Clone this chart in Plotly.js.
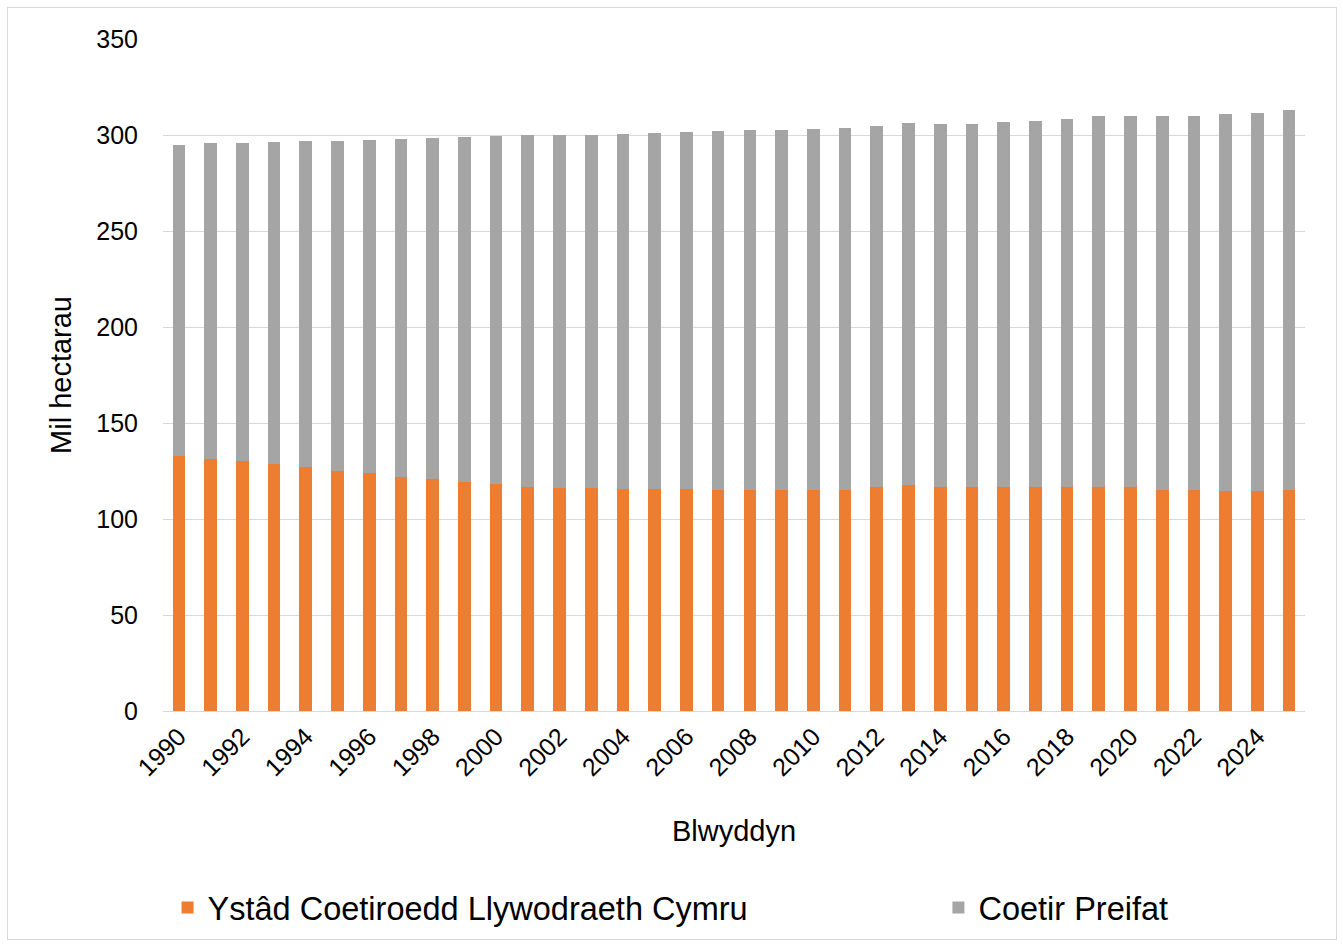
<!DOCTYPE html>
<html>
<head>
<meta charset="utf-8">
<script src="https://cdn.plot.ly/plotly-3.0.1.min.js"></script>
<style>
  html, body { margin: 0; padding: 0; background: #ffffff; }
  #frame { position: absolute; left: 7px; top: 7px; width: 1328px; height: 931px; border: 1px solid #d9d9d9; }
  #chart { width: 1328px; height: 931px; }
</style>
</head>
<body>
<div id="frame"><div id="chart"></div></div>
<script>
// Years (x categories)
const years = [1990,1991,1992,1993,1994,1995,1996,1997,1998,1999,
               2000,2001,2002,2003,2004,2005,2006,2007,2008,2009,
               2010,2011,2012,2013,2014,2015,2016,2017,2018,2019,
               2020,2021,2022,2023,2024,2025];

// Ystâd Coetiroedd Llywodraeth Cymru (mil hectarau)
const ystadValues = [132.8,131.4,130.0,128.8,127.3,125.2,124.0,121.9,121.0,119.1,
                     118.1,116.8,116.0,116.0,115.8,115.8,115.8,115.1,115.0,115.1,
                     115.1,115.1,116.8,117.9,116.8,116.8,116.8,116.8,116.8,116.8,
                     116.8,114.9,114.9,114.8,114.8,115.1];

// Coetir Preifat (mil hectarau)
const preifatValues = [162.0,164.3,165.8,167.4,169.4,171.8,173.6,176.0,177.3,179.7,
                       181.4,183.0,183.8,184.2,184.7,185.2,185.6,186.8,187.8,187.7,
                       188.0,188.5,187.7,188.4,188.8,189.1,189.8,190.7,191.7,192.9,
                       192.9,194.8,195.0,196.1,196.8,197.7];

const seriesNames = ["Ystâd Coetiroedd Llywodraeth Cymru", "Coetir Preifat"];
const yTickValues = [0,50,100,150,200,250,300,350];
const xTitle = "Blwyddyn";
const yTitle = "Mil hectarau";

const FONT = "Liberation Sans, Arial, sans-serif";

const traces = [
  { type: "bar", x: years, y: ystadValues, name: seriesNames[0], legend: "legend",
    marker: { color: "#ED7D31" }, hoverinfo: "x+y+name" },
  { type: "bar", x: years, y: preifatValues, name: seriesNames[1], legend: "legend2",
    marker: { color: "#A5A5A5" }, hoverinfo: "x+y+name" }
];

const legendFont = { family: FONT, size: 32.5, color: "#000000" };

const layout = {
  width: 1328, height: 931,
  barmode: "stack",
  bargap: 0.6,
  paper_bgcolor: "#ffffff",
  plot_bgcolor: "#ffffff",
  font: { family: FONT, color: "#000000", size: 25 },
  margin: { l: 155, r: 31, t: 31, b: 228, autoexpand: false },
  showlegend: true,
  legend: {
    orientation: "h",
    x: 0.004, xanchor: "left",
    y: -0.293, yanchor: "middle",
    font: legendFont,
    bgcolor: "rgba(0,0,0,0)"
  },
  legend2: {
    orientation: "h",
    x: 0.679, xanchor: "left",
    y: -0.293, yanchor: "middle",
    font: legendFont,
    bgcolor: "rgba(0,0,0,0)"
  },
  xaxis: {
    type: "linear",
    range: [1989.5, 2025.5],
    tick0: 1990, dtick: 2,
    tickangle: -45,
    tickfont: { family: FONT, size: 25, color: "#000000" },
    showgrid: false,
    showline: true, linecolor: "#d9d9d9", linewidth: 1,
    ticks: "",
    zeroline: false,
    automargin: false,
    title: { text: xTitle, font: { family: FONT, size: 29, color: "#000000" }, standoff: 40 }
  },
  yaxis: {
    range: [0, 350],
    tickvals: yTickValues,
    tickfont: { family: FONT, size: 25, color: "#000000" },
    ticklabelstandoff: 24,
    showgrid: true, gridcolor: "#d9d9d9", gridwidth: 1,
    zeroline: false,
    showline: false,
    ticks: "",
    automargin: false,
    title: { text: yTitle, font: { family: FONT, size: 29, color: "#000000" }, standoff: 16 }
  }
};

Plotly.newPlot("chart", traces, layout, { displayModeBar: false, responsive: false });
</script>
</body>
</html>
